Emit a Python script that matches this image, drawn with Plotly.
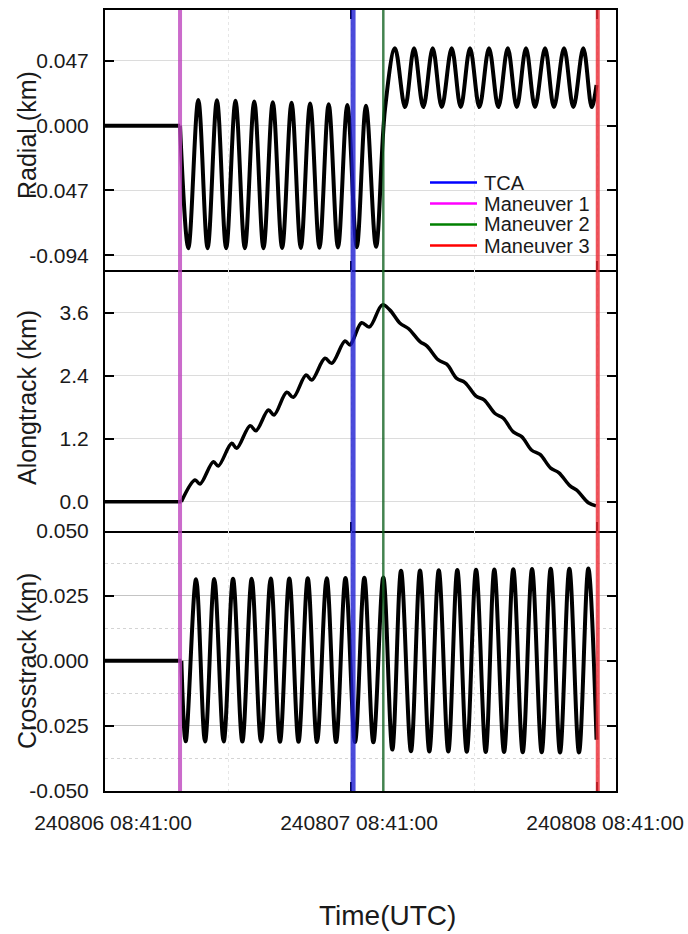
import plotly.graph_objects as go
from plotly.subplots import make_subplots

# ---------------- data (hours after 240806 08:41:00 UTC) ----------------
x_tick_hours = [0, 24, 48]
x_tick_labels = ["240806 08:41:00", "240807 08:41:00", "240808 08:41:00"]

event_names = ["TCA", "Maneuver 1", "Maneuver 2", "Maneuver 3"]
event_hours = [24.2, 7.32, 27.15, 48.07]
event_legend_colors = ["#0000ff", "#ff00ff", "#008000", "#ff0000"]

# Radial (km): first two points = flat pre-maneuver segment, then extrema
radial_hours = [0.0, 7.32,
                8.13, 9.10, 10.01, 10.92, 11.82, 12.73, 13.64, 14.56, 15.46, 16.37,
                17.28, 18.20, 19.10, 20.01, 20.92, 21.82, 22.73, 23.64, 24.56, 25.46,
                26.44, 27.32,
                28.29, 29.27, 30.15, 31.05, 31.97, 32.85, 33.82, 34.70, 35.61, 36.52,
                37.46, 38.37, 39.29, 40.17, 41.07, 41.95, 42.93, 43.80, 44.78, 45.69,
                46.66, 47.48, 47.95]
radial_km = [0.0, 0.0,
             -0.0890, 0.0187, -0.0890, 0.0185, -0.0890, 0.0181, -0.0890, 0.0176, -0.0890, 0.0171,
             -0.0888, 0.0166, -0.0887, 0.0161, -0.0886, 0.0156, -0.0884, 0.0150, -0.0882, 0.0144,
             -0.0879, 0.0125,
             0.0562, 0.0135, 0.0562, 0.0135, 0.0562, 0.0135, 0.0562, 0.0135, 0.0562, 0.0135,
             0.0562, 0.0135, 0.0562, 0.0135, 0.0562, 0.0135, 0.0562, 0.0135, 0.0562, 0.0135,
             0.0562, 0.0135, 0.0296]

# Alongtrack (km)
along_hours = [0.0, 7.45,
               8.78, 9.27, 10.57, 11.05, 12.36, 12.85, 14.15, 14.73, 15.94, 16.49,
               17.73, 18.37, 19.61, 20.17, 21.46, 22.12, 23.41, 23.90, 24.25, 25.04,
               25.79, 27.05, 27.80, 28.78, 29.59, 30.73, 31.39, 32.52, 33.34, 34.31,
               35.12, 36.20, 36.98, 38.05, 38.86, 39.83, 40.65, 41.63, 42.44, 43.48,
               44.29, 45.37, 46.02, 47.15, 47.90]
along_km = [0.0, 0.0,
            0.413, 0.337, 0.762, 0.680, 1.112, 1.017, 1.448, 1.353, 1.747, 1.652,
            2.084, 1.989, 2.414, 2.318, 2.732, 2.637, 3.060, 2.985, 3.100, 3.410,
            3.330, 3.750, 3.650, 3.400, 3.300, 3.050, 2.970, 2.700, 2.620, 2.350,
            2.270, 2.010, 1.940, 1.680, 1.590, 1.330, 1.240, 0.980, 0.900, 0.640,
            0.550, 0.300, 0.220, -0.020, -0.080]

# Crosstrack (km)
cross_hours = [0.0, 7.45,
               7.87, 8.88, 9.76, 10.66, 11.58, 12.49, 13.40, 14.31, 15.22, 16.17,
               17.07, 17.98, 18.88, 19.78, 20.68, 21.63, 22.54, 23.46, 24.39, 25.30,
               26.18, 27.15, 28.03, 28.88, 29.85, 30.73, 31.64, 32.56, 33.49, 34.37,
               35.29, 36.20, 37.14, 37.98, 38.93, 39.83, 40.75, 41.66, 42.60, 43.48,
               44.39, 45.30, 46.24, 47.15, 47.95]
cross_km = [0.0, 0.0,
            -0.0309, 0.0313, -0.0310, 0.0314, -0.0310, 0.0315, -0.0310, 0.0315, -0.0310, 0.0316,
            -0.0311, 0.0316, -0.0311, 0.0317, -0.0312, 0.0317, -0.0312, 0.0318, -0.0312, 0.0319,
            -0.0313, 0.0320, -0.0341, 0.0346, -0.0347, 0.0347, -0.0348, 0.0348, -0.0348, 0.0349,
            -0.0349, 0.0350, -0.0350, 0.0351, -0.0350, 0.0352, -0.0351, 0.0353, -0.0351, 0.0354,
            -0.0352, 0.0354, -0.0352, 0.0355, -0.0303]

radial_ticks = [-0.094, -0.047, 0.0, 0.047]
radial_ticktext = ["-0.094", "-0.047", "0.000", "0.047"]
along_ticks = [0.0, 1.2, 2.4, 3.6]
along_ticktext = ["0.0", "1.2", "2.4", "3.6"]
cross_ticks = [-0.05, -0.025, 0.0, 0.025, 0.05]
cross_ticktext = ["-0.050", "-0.025", "0.000", "0.025", "0.050"]

# ---------------- figure ----------------
FONT = "Liberation Sans, Arial, sans-serif"
TXT = "#1a1a1a"
event_line_colors = ["rgba(30,30,210,0.8)", "rgba(190,70,190,0.8)",
                     "rgba(20,100,35,0.8)", "rgba(235,40,50,0.8)"]
event_line_widths = [5, 4, 2.5, 4]

L, R, T, B = 105, 72, 10, 143
W, H = 688, 934
pw, ph = W - L - R, H - T - B

def px_to_paper_x(px):
    return (px - L) / pw

def py_to_paper_y(py):
    return (H - B - py) / ph

fig = make_subplots(rows=3, cols=1, shared_xaxes=True, vertical_spacing=0)

series = [(radial_hours, radial_km, 1, 4), (along_hours, along_km, 2, 3.5),
          (cross_hours, cross_km, 3, 4)]
for hx, vy, row, lw in series:
    fig.add_trace(go.Scatter(x=hx[:2], y=vy[:2], mode="lines",
                             line=dict(color="black", width=lw),
                             showlegend=False, hoverinfo="skip"), row=row, col=1)
    fig.add_trace(go.Scatter(x=hx[1:], y=vy[1:], mode="lines",
                             line=dict(color="black", width=lw, shape="spline", smoothing=1),
                             showlegend=False), row=row, col=1)

# event (maneuver / TCA) vertical lines through all three panels
for h, c, w in zip(event_hours, event_line_colors, event_line_widths):
    fig.add_shape(type="line", xref="x", yref="paper", x0=h, x1=h, y0=0, y1=1,
                  line=dict(color=c, width=w), layer="above")

# legend box (inside the radial panel)
fig.add_shape(type="rect", xref="paper", yref="paper",
              x0=px_to_paper_x(428), x1=px_to_paper_x(594),
              y0=py_to_paper_y(258), y1=py_to_paper_y(172),
              fillcolor="white", line=dict(width=0), layer="between")
legend_row_y = [182.5, 203.5, 224.5, 245.5]
annotations = []
for name, c, ry in zip(event_names, event_legend_colors, legend_row_y):
    fig.add_shape(type="line", xref="paper", yref="paper",
                  x0=px_to_paper_x(430), x1=px_to_paper_x(477),
                  y0=py_to_paper_y(ry), y1=py_to_paper_y(ry),
                  line=dict(color=c, width=2.5), layer="above")
    annotations.append(dict(text=name, xref="paper", yref="paper",
                            x=px_to_paper_x(482), y=py_to_paper_y(ry),
                            xanchor="left", yanchor="middle", showarrow=False,
                            font=dict(family=FONT, size=20, color=TXT)))

axis_common = dict(showline=True, linecolor="black", linewidth=2,
                   ticks="inside", ticklen=9, tickwidth=2, tickcolor="black",
                   tickfont=dict(family=FONT, size=21, color=TXT), zeroline=False,
                   automargin=False)

for r in (1, 2, 3):
    fig.update_xaxes(range=[0, 49.85], tickmode="array", tickvals=x_tick_hours,
                     ticktext=x_tick_labels, showgrid=True, gridcolor="#e6e6e6",
                     griddash="dot", gridwidth=1,
                     minor=dict(tickvals=[12, 36], showgrid=True, gridcolor="#e6e6e6",
                                griddash="dot", gridwidth=1, ticks=""),
                     ticklabelshift=8, ticklabelstandoff=12,
                     mirror="ticks" if r == 1 else False,
                     row=r, col=1, **axis_common)

fig.update_yaxes(range=[-0.105, 0.084], tickmode="array", tickvals=radial_ticks,
                 ticktext=radial_ticktext, showgrid=True, gridcolor="#dcdcdc",
                 ticklabelstandoff=10, mirror="ticks", row=1, col=1, **axis_common)
fig.update_yaxes(range=[-0.552, 4.408], tickmode="array", tickvals=along_ticks,
                 ticktext=along_ticktext, showgrid=True, gridcolor="#dcdcdc",
                 ticklabelstandoff=10, mirror="ticks", row=2, col=1, **axis_common)
fig.update_yaxes(range=[-0.05, 0.05], tickmode="array", tickvals=cross_ticks,
                 ticktext=cross_ticktext, showgrid=True, gridcolor="#c4c4c4",
                 minor=dict(tickvals=[-0.0375, -0.0125, 0.0125, 0.0375], showgrid=True,
                            gridcolor="#d4d4d4", griddash="dot", ticks=""),
                 ticklabelstandoff=10, mirror="ticks", row=3, col=1, **axis_common)

ytitles = [("Radial (km)", 135), ("Alongtrack (km)", 398), ("Crosstrack (km)", 661)]
for text, cy in ytitles:
    annotations.append(dict(text=text, xref="paper", yref="paper",
                            x=px_to_paper_x(27), y=py_to_paper_y(cy),
                            xanchor="center", yanchor="middle", textangle=-90,
                            showarrow=False, font=dict(family=FONT, size=25, color=TXT)))
annotations.append(dict(text="Time(UTC)", xref="paper", yref="paper",
                        x=px_to_paper_x(387), y=py_to_paper_y(915),
                        xanchor="center", yanchor="middle", showarrow=False,
                        font=dict(family=FONT, size=28, color=TXT)))

fig.update_layout(
    template="plotly_white",
    width=W, height=H, autosize=False,
    margin=dict(l=L, r=R, t=T, b=B, pad=0, autoexpand=False),
    paper_bgcolor="white", plot_bgcolor="white",
    font=dict(family=FONT, color=TXT),
    annotations=annotations,
    showlegend=False,
)

fig.write_html("out.html", config={"displayModeBar": False},
               post_script="document.body.style.margin='0';document.body.style.overflow='hidden';")
